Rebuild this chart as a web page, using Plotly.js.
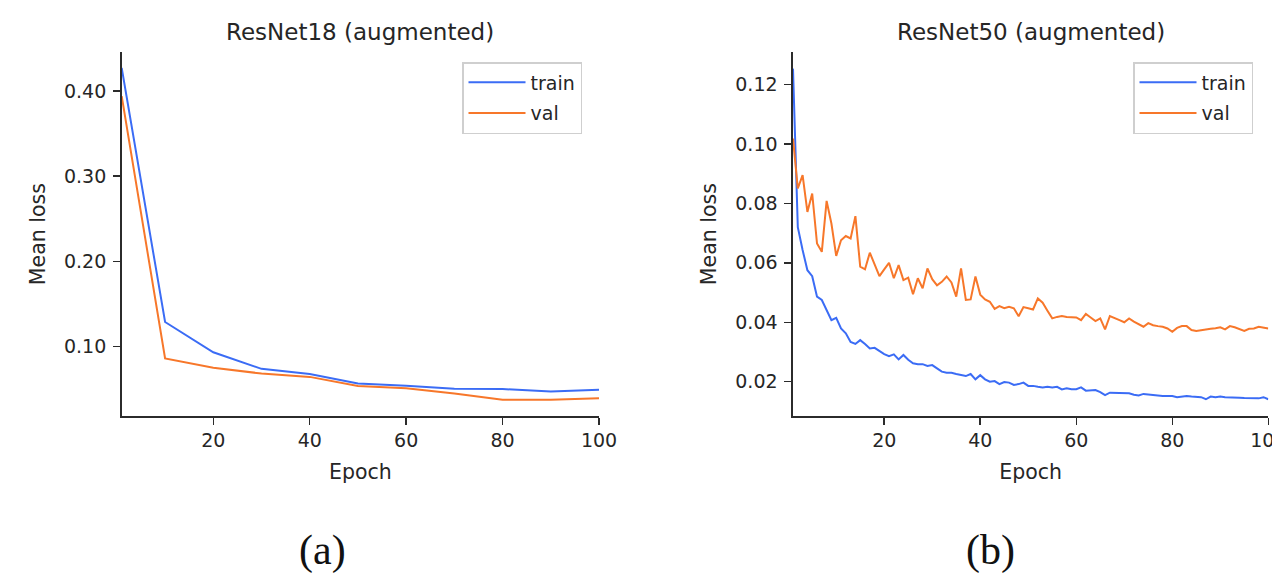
<!DOCTYPE html>
<html>
<head>
<meta charset="utf-8">
<script src="https://cdn.plot.ly/plotly-3.0.1.min.js"></script>
<style>
  html, body { margin: 0; padding: 0; background: #ffffff; }
  #chart { width: 1272px; height: 576px; }
</style>
</head>
<body>
<div id="chart"></div>
<script>
// ---- Data ----
const epochs18 = [1, 10, 20, 30, 40, 50, 60, 70, 80, 90, 100];
const train18 = [0.427, 0.129, 0.0935, 0.074, 0.068, 0.0568, 0.0543, 0.0508, 0.0504, 0.0473, 0.0495];
const val18   = [0.394, 0.0862, 0.0754, 0.0685, 0.0646, 0.0538, 0.0512, 0.0452, 0.0378, 0.0378, 0.0396];

const epochs50 = [1,2,3,4,5,6,7,8,9,10,11,12,13,14,15,16,17,18,19,20,
  21,22,23,24,25,26,27,28,29,30,31,32,33,34,35,36,37,38,39,40,
  41,42,43,44,45,46,47,48,49,50,51,52,53,54,55,56,57,58,59,60,
  61,62,63,64,65,66,67,68,69,70,71,72,73,74,75,76,77,78,79,80,
  81,82,83,84,85,86,87,88,89,90,91,92,93,94,95,96,97,98,99,100];
const train50 = [0.1253,0.072,0.0643,0.0575,0.0555,0.0486,0.0475,0.0439,0.0407,0.0415,
  0.0379,0.0363,0.0334,0.0327,0.034,0.0327,0.0312,0.0314,0.0304,0.0293,
  0.0286,0.0292,0.0275,0.029,0.0274,0.0262,0.0259,0.0259,0.0253,0.0256,
  0.0245,0.0234,0.023,0.023,0.0226,0.0223,0.0219,0.0226,0.0208,0.0222,
  0.0208,0.02,0.0202,0.0192,0.0199,0.0197,0.0189,0.0192,0.0197,0.0186,
  0.0186,0.0183,0.0181,0.0183,0.0181,0.0183,0.0174,0.0178,0.0175,0.0175,
  0.0181,0.017,0.017,0.0172,0.0165,0.0155,0.0163,0.0163,0.0163,0.0163,
  0.0161,0.0156,0.0154,0.0159,0.0157,0.0155,0.0155,0.0152,0.0152,0.0152,
  0.0148,0.015,0.0152,0.015,0.0148,0.0148,0.0141,0.015,0.0148,0.015,
  0.0148,0.0148,0.0148,0.0146,0.0145,0.0145,0.0144,0.0144,0.0148,0.0141];
const val50 = [0.1018,0.085,0.0895,0.0771,0.0833,0.0665,0.0637,0.0808,0.0732,0.0623,
  0.0676,0.069,0.0682,0.0757,0.0587,0.0578,0.0634,0.0592,0.0555,0.0578,
  0.06,0.0548,0.0592,0.0542,0.055,0.0494,0.0548,0.0514,0.0581,0.0545,
  0.0524,0.0536,0.0554,0.0534,0.0486,0.0581,0.0475,0.0477,0.0554,0.0493,
  0.0477,0.0469,0.0445,0.0454,0.0447,0.0452,0.0447,0.042,0.0451,0.0447,
  0.0443,0.048,0.0466,0.0439,0.0413,0.0418,0.0421,0.0418,0.0418,0.0416,
  0.0407,0.0428,0.0416,0.0404,0.0413,0.0376,0.0421,0.0413,0.0407,0.04,
  0.0413,0.0402,0.0394,0.0385,0.0397,0.039,0.0387,0.0385,0.0379,0.0368,
  0.0381,0.0387,0.0387,0.0374,0.0371,0.0374,0.0376,0.0378,0.038,0.0383,
  0.0376,0.0387,0.0383,0.0378,0.0371,0.0378,0.0379,0.0385,0.0381,0.0379];

const xTicks = [20, 40, 60, 80, 100];
const yTicks18 = [0.1, 0.2, 0.3, 0.4];
const yTicks50 = [0.02, 0.04, 0.06, 0.08, 0.10, 0.12];
const titles = ["ResNet18 (augmented)", "ResNet50 (augmented)"];
const panelLabels = ["(a)", "(b)"];
const seriesNames = ["train", "val"];

// ---- Styles ----
const BLUE = "#3b6cf5";
const ORANGE = "#f7772a";
const TXT = "#262626";
const FONT = "DejaVu Sans, sans-serif";
const W = 1272, H = 576;

function px(x) { return x / W; }
function py(y) { return 1 - y / H; }

const traces = [
  { x: epochs18, y: train18, name: seriesNames[0], mode: "lines", line: { color: BLUE, width: 2 },
    xaxis: "x", yaxis: "y", legend: "legend", legendgroup: "a1" },
  { x: epochs18, y: val18, name: seriesNames[1], mode: "lines", line: { color: ORANGE, width: 2 },
    xaxis: "x", yaxis: "y", legend: "legend", legendgroup: "a2" },
  { x: epochs50, y: train50, name: seriesNames[0], mode: "lines", line: { color: BLUE, width: 2 },
    xaxis: "x2", yaxis: "y2", legend: "legend2", legendgroup: "b1" },
  { x: epochs50, y: val50, name: seriesNames[1], mode: "lines", line: { color: ORANGE, width: 2 },
    xaxis: "x2", yaxis: "y2", legend: "legend2", legendgroup: "b2" }
];

const axisCommon = {
  showgrid: false, zeroline: false, showline: true, linecolor: "#2b2b2b", linewidth: 1.6,
  ticks: "outside", ticklen: 7, tickwidth: 1.5, tickcolor: "#2b2b2b",
  tickfont: { family: FONT, size: 19, color: TXT }, mirror: false
};

const xCommon = Object.assign({}, axisCommon, {
  tickmode: "array", tickvals: xTicks, ticktext: xTicks.map(String),
  ticklabeloverflow: "allow",
  title: { text: "Epoch", font: { family: FONT, size: 20.5, color: TXT }, standoff: 14 }
});

const yTitle = { text: "Mean loss", font: { family: FONT, size: 20.5, color: TXT }, standoff: 13 };

const legendCommon = {
  bgcolor: "#ffffff", bordercolor: "#cfcfcf", borderwidth: 1.5,
  font: { family: FONT, size: 19, color: TXT },
  xanchor: "left", yanchor: "top", tracegroupgap: 3, itemwidth: 57
};

const layout = {
  width: W, height: H,
  margin: { l: 0, r: 0, t: 0, b: 0 },
  paper_bgcolor: "#ffffff", plot_bgcolor: "#ffffff",
  showlegend: true,
  xaxis: Object.assign({}, xCommon, { domain: [px(121.7), px(599)], range: [1, 100], anchor: "y" }),
  yaxis: Object.assign({}, axisCommon, {
    domain: [py(416), py(52.3)], range: [0.0187, 0.4454], anchor: "x",
    tickmode: "array", tickvals: yTicks18, tickformat: ".2f", ticklabelstandoff: 3,
    title: yTitle
  }),
  xaxis2: Object.assign({}, xCommon, { domain: [px(793), px(1268.3)], range: [1, 100], anchor: "y2" }),
  yaxis2: Object.assign({}, axisCommon, {
    domain: [py(416), py(52.3)], range: [0.00847, 0.1308], anchor: "x2",
    tickmode: "array", tickvals: yTicks50, tickformat: ".2f", ticklabelstandoff: 3,
    title: yTitle
  }),
  legend: Object.assign({}, legendCommon, { x: px(462), y: py(62) }),
  legend2: Object.assign({}, legendCommon, { x: px(1133), y: py(62) }),
  annotations: [
    { text: titles[0], xref: "paper", yref: "paper", x: px(360), y: py(32), xanchor: "center", yanchor: "middle",
      showarrow: false, font: { family: FONT, size: 23, color: TXT } },
    { text: titles[1], xref: "paper", yref: "paper", x: px(1030.5), y: py(32), xanchor: "center", yanchor: "middle",
      showarrow: false, font: { family: FONT, size: 23, color: TXT } },
    { text: panelLabels[0], xref: "paper", yref: "paper", x: px(322), y: py(550), xanchor: "center", yanchor: "middle",
      showarrow: false, font: { family: "Liberation Serif, Times New Roman, serif", size: 42, color: "#111" } },
    { text: panelLabels[1], xref: "paper", yref: "paper", x: px(990), y: py(550), xanchor: "center", yanchor: "middle",
      showarrow: false, font: { family: "Liberation Serif, Times New Roman, serif", size: 42, color: "#111" } }
  ]
};

Plotly.newPlot("chart", traces, layout, { displayModeBar: false, staticPlot: true });
</script>
</body>
</html>
